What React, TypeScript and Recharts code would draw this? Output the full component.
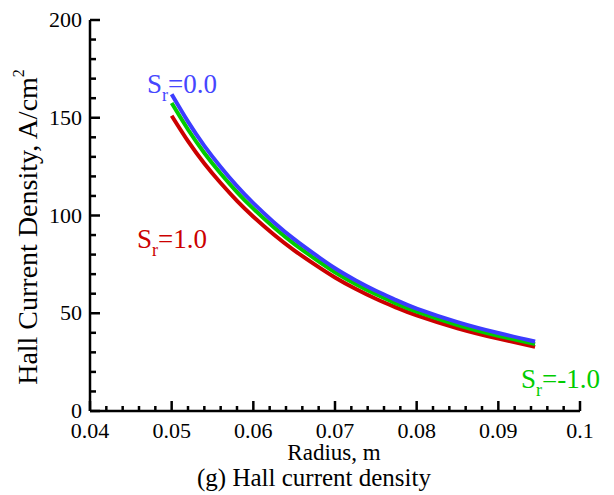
import React from "react";
import { LineChart, Line, XAxis, YAxis, ReferenceLine, Customized } from "recharts";

const radius = [0.05, 0.052, 0.054, 0.056, 0.058, 0.06, 0.0625, 0.065, 0.0675, 0.07, 0.0725, 0.075, 0.0775, 0.08, 0.085, 0.09, 0.0945];
const srZero = [162, 148, 135.6, 124.8, 115, 106.3, 96.6, 87.9, 80.2, 73, 66.9, 61.5, 56.7, 52.4, 45.5, 39.9, 35.5];
const srMinusOne = [157.5, 144, 132, 121.5, 112, 103.5, 94, 85.5, 78, 71, 65, 59.7, 55, 50.8, 44, 38.5, 34.2];
const srOne = [151, 138, 126.6, 116.6, 107.5, 99.4, 90.3, 82.2, 75, 68.3, 62.5, 57.4, 52.9, 48.9, 42.3, 37, 32.8];

const xMajorTicks = [0.04, 0.05, 0.06, 0.07, 0.08, 0.09, 0.1];
const yMajorTicks = [0, 50, 100, 150, 200];

const data = radius.map((r, i) => ({ r, s0: srZero[i], sm1: srMinusOne[i], s1: srOne[i] }));

const xAllTicks: number[] = [];
for (let i = 0; i <= 30; i++) xAllTicks.push(Math.round((0.04 + i * 0.002) * 1000) / 1000);
const yAllTicks: number[] = [];
for (let i = 0; i <= 20; i++) yAllTicks.push(i * 10);

const FONT = "'Liberation Serif', 'Times New Roman', serif";

const X_DOMAIN = [0.04, 0.1];
const Y_DOMAIN = [0, 200];
const MARGIN = { top: 20, right: 34, bottom: 54, left: 30 };
const CHART_W = 614;
const CHART_H = 495;
const Y_AXIS_W = 60;
const X_AXIS_H = 30;
const PLOT_W = CHART_W - MARGIN.left - MARGIN.right - Y_AXIS_W;
const PLOT_H = CHART_H - MARGIN.top - MARGIN.bottom - X_AXIS_H;

const isMajor = (arr: number[], v: number) => arr.some((m) => Math.abs(m - v) < 1e-9);

// tick lengths converted to data units of the perpendicular axis
const xTickLen = (v: number) => ((isMajor(xMajorTicks, v) ? 10 : 5) / PLOT_H) * (Y_DOMAIN[1] - Y_DOMAIN[0]);
const yTickLen = (v: number) => ((isMajor(yMajorTicks, v) ? 10 : 6) / PLOT_W) * (X_DOMAIN[1] - X_DOMAIN[0]);

const renderXTick = (props: any) => {
  const { x, y, payload } = props;
  const v = payload.value;
  return (
    <text key={`xl-${v}`} x={x} y={y + 27} textAnchor="middle" fontSize={22} fontFamily={FONT} fill="#000" stroke="none">
      {String(v)}
    </text>
  );
};

const renderYTick = (props: any) => {
  const { x, y, payload } = props;
  const v = payload.value;
  return (
    <text key={`yl-${v}`} x={x - 8} y={y + 7} textAnchor="end" fontSize={22} fontFamily={FONT} fill="#000" stroke="none">
      {String(v)}
    </text>
  );
};

const Annotations = () => (
  <g fontFamily={FONT}>
    <text x={147} y={93} fontSize={27} fill="#4646ff">
      <tspan>S</tspan>
      <tspan fontSize={18} dy={8}>r</tspan>
      <tspan dy={-8}>=0.0</tspan>
    </text>
    <text x={137} y={248} fontSize={27} fill="#cc0000">
      <tspan>S</tspan>
      <tspan fontSize={18} dy={8}>r</tspan>
      <tspan dy={-8}>=1.0</tspan>
    </text>
    <text x={521} y={388} fontSize={27} fill="#00cc00">
      <tspan>S</tspan>
      <tspan fontSize={18} dy={8}>r</tspan>
      <tspan dy={-8}>=-1.0</tspan>
    </text>
    <text x={334} y={460} textAnchor="middle" fontSize={23} fill="#000">Radius, m</text>
    <text x={314} y={486} textAnchor="middle" fontSize={25} fill="#000">(g) Hall current density</text>
    <text transform="translate(37,227) rotate(-90)" textAnchor="middle" fontSize={28} fill="#000">
      <tspan>Hall Current Density, A/cm</tspan>
      <tspan fontSize={16} dy={-13}>2</tspan>
    </text>
  </g>
);

export default function App() {
  return (
    <div style={{ position: "absolute", left: 0, top: 0, background: "#fff" }}>
      <LineChart width={CHART_W} height={CHART_H} data={data} margin={MARGIN}>
        <XAxis
          dataKey="r"
          type="number"
          domain={X_DOMAIN}
          ticks={xMajorTicks}
          interval={0}
          tick={renderXTick}
          tickLine={false}
          tickSize={0}
          tickMargin={0}
          height={X_AXIS_H}
          axisLine={{ stroke: "#000", strokeWidth: 2.5 }}
          allowDataOverflow
        />
        <YAxis
          type="number"
          domain={Y_DOMAIN}
          ticks={yMajorTicks}
          interval={0}
          tick={renderYTick}
          tickLine={false}
          tickSize={0}
          tickMargin={0}
          width={Y_AXIS_W}
          axisLine={{ stroke: "#000", strokeWidth: 2.5 }}
          allowDataOverflow
        />
        {xAllTicks.map((v) => (
          <ReferenceLine
            key={`xm-${v}`}
            segment={[{ x: v, y: Y_DOMAIN[0] }, { x: v, y: Y_DOMAIN[0] + xTickLen(v) }]}
            stroke="#000000"
            strokeWidth={2.5}
            ifOverflow="extendDomain"
          />
        ))}
        {yAllTicks.map((v) => (
          <ReferenceLine
            key={`ym-${v}`}
            segment={[{ x: X_DOMAIN[0], y: v }, { x: X_DOMAIN[0] + yTickLen(v), y: v }]}
            stroke="#000000"
            strokeWidth={2.5}
            ifOverflow="extendDomain"
          />
        ))}
        <Line dataKey="s1" type="natural" stroke="#cc0000" strokeWidth={4} dot={false} isAnimationActive={false} />
        <Line dataKey="sm1" type="natural" stroke="#00cc00" strokeWidth={4} dot={false} isAnimationActive={false} />
        <Line dataKey="s0" type="natural" stroke="#3c3cff" strokeWidth={4} dot={false} isAnimationActive={false} />
        <Customized component={Annotations} />
      </LineChart>
    </div>
  );
}
